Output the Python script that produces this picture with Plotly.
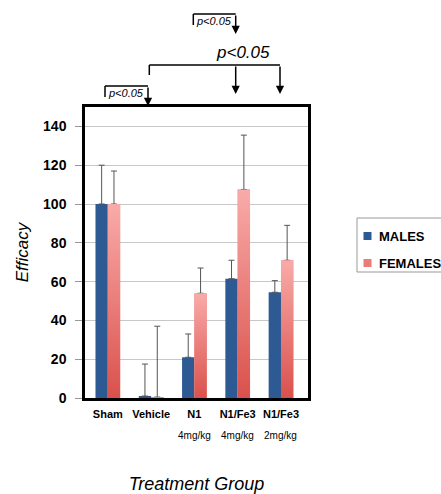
import plotly.graph_objects as go

groups = ["Sham", "Vehicle", "N1", "N1/Fe3", "N1/Fe3"]
doses = ["", "", "4mg/kg", "4mg/kg", "2mg/kg"]
males = [100, 1, 21, 61.5, 54.5]
males_err = [20, 16.5, 12, 9.5, 6]
females = [100, 0.5, 54, 107.5, 71]
females_err = [17, 36.5, 13, 28, 18]
yticks = [0, 20, 40, 60, 80, 100, 120, 140]
series_names = ["MALES", "FEMALES"]
series_colors = ["#2D5A92", "#EC7C78"]
female_gradient = [[0, "#DA514C"], [1, "#F9ABA9"]]

W, H = 441, 494
L, R, T, B = 85, 133, 107, 96
PW, PH = W - L - R, H - T - B
BARGAP = 0.43
BW = (1 - BARGAP) / 2

def px(x):
    return (x - L) / PW

def py(y):
    return (H - B - y) / PH

xpos = list(range(len(groups)))
FONT = "Arial, Liberation Sans, sans-serif"

fig = go.Figure()
for name, vals, errs, col in zip(series_names, [males, females], [males_err, females_err], series_colors):
    fig.add_bar(
        x=xpos, y=vals, name=name, showlegend=False,
        marker=dict(color=col, line=dict(width=0)),
        error_y=dict(type="data", array=errs, symmetric=False, arrayminus=[0] * len(errs),
                     color="#555555", thickness=1, width=3),
    )

# vertical shading of the female bars (light at top, red at base), following each bar
for i, v in zip(xpos, females):
    fig.add_scatter(
        x=[i, i + BW, i + BW, i, i], y=[0, 0, v, v, 0],
        mode="lines", line=dict(width=0), fill="toself",
        fillgradient=dict(type="vertical", colorscale=female_gradient, start=0, stop=v),
        hoverinfo="skip", showlegend=False,
    )

fig.update_layout(
    width=W, height=H,
    margin=dict(l=L, r=R, t=T, b=B, autoexpand=False),
    paper_bgcolor="white", plot_bgcolor="white",
    barmode="group", bargap=BARGAP, bargroupgap=0,
    font=dict(family=FONT, color="black"),
)
fig.update_xaxes(
    range=[-0.527, 4.624], tickvals=xpos, ticktext=groups, tickangle=0,
    tickfont=dict(size=11, family=FONT, weight="bold"),
    ticks="", showgrid=False, zeroline=False, ticklabelstandoff=4,
    showline=True, linecolor="black", linewidth=2.5, mirror=True,
    title=dict(text="<i>Treatment Group</i>", font=dict(size=18, family=FONT), standoff=60),
)
fig.update_yaxes(
    range=[0, 150], tickvals=yticks,
    tickfont=dict(size=14, family=FONT, weight="bold"),
    ticks="outside", ticklen=7, tickcolor="#999999", ticklabelstandoff=6,
    showgrid=True, gridcolor="#C8C8C8", gridwidth=1, zeroline=False,
    showline=True, linecolor="black", linewidth=2.5, mirror=True,
    title=dict(text="<i>Efficacy</i>", font=dict(size=17, family=FONT), standoff=11),
)

# second row of tick labels (doses)
for i, d in enumerate(doses):
    if d:
        fig.add_annotation(x=i, y=py(443), xref="x", yref="paper", text=d,
                           showarrow=False, font=dict(size=10, family=FONT, color="black"))

# legend box (drawn to match the original's compact layout)
fig.add_shape(type="rect", xref="paper", yref="paper",
              x0=px(357), y0=py(272), x1=px(460), y1=py(218),
              line=dict(color="#999999", width=1), fillcolor="white")
for k, (name, col) in enumerate(zip(series_names, series_colors)):
    yc = 236 + 27 * k
    fig.add_shape(type="rect", xref="paper", yref="paper",
                  x0=px(363.5), y0=py(yc + 4), x1=px(371.5), y1=py(yc - 4),
                  line=dict(width=0), fillcolor=col)
    fig.add_annotation(xref="paper", yref="paper", x=px(377), y=py(yc), xanchor="left",
                       text=f"<b>{name}</b>", showarrow=False,
                       font=dict(size=13, family=FONT, color="black"))

# significance brackets
LINE = dict(color="black", width=1.5)
def seg(x0, y0, x1, y1):
    fig.add_shape(type="line", xref="paper", yref="paper",
                  x0=px(x0), y0=py(y0), x1=px(x1), y1=py(y1), line=LINE)

def arrow(x, y0, y1):
    fig.add_annotation(xref="paper", yref="paper", x=px(x), y=py(y1),
                       ax=0, ay=-(y1 - y0), axref="pixel", ayref="pixel",
                       showarrow=True, arrowhead=2, arrowsize=1.1, arrowwidth=1.5,
                       arrowcolor="black", text="")

# Sham -> Vehicle
seg(105, 86, 105, 97)
seg(105, 86, 148, 86)
arrow(148, 86, 106)
# Vehicle -> N1/Fe3 (both doses)
seg(149.3, 65, 149.3, 75)
seg(149.3, 65, 280, 65)
arrow(235.7, 65, 94)
arrow(280, 65, 94)
# N1 -> N1/Fe3
seg(193.3, 14, 193.3, 25)
seg(193.3, 14, 235.7, 14)
arrow(235.7, 14, 34)

def ptext(x, y, size):
    fig.add_annotation(xref="paper", yref="paper", x=px(x), y=py(y), text="<i>p&lt;0.05</i>",
                       xanchor="center", yanchor="middle",
                       showarrow=False, font=dict(size=size, family=FONT, color="black"))

ptext(126, 93, 11)
ptext(213.5, 21, 11)
ptext(242.5, 52, 17)

fig.write_html("out.html", config={"displayModeBar": False},
               post_script="document.body.style.margin='0';document.body.style.overflow='hidden';")
